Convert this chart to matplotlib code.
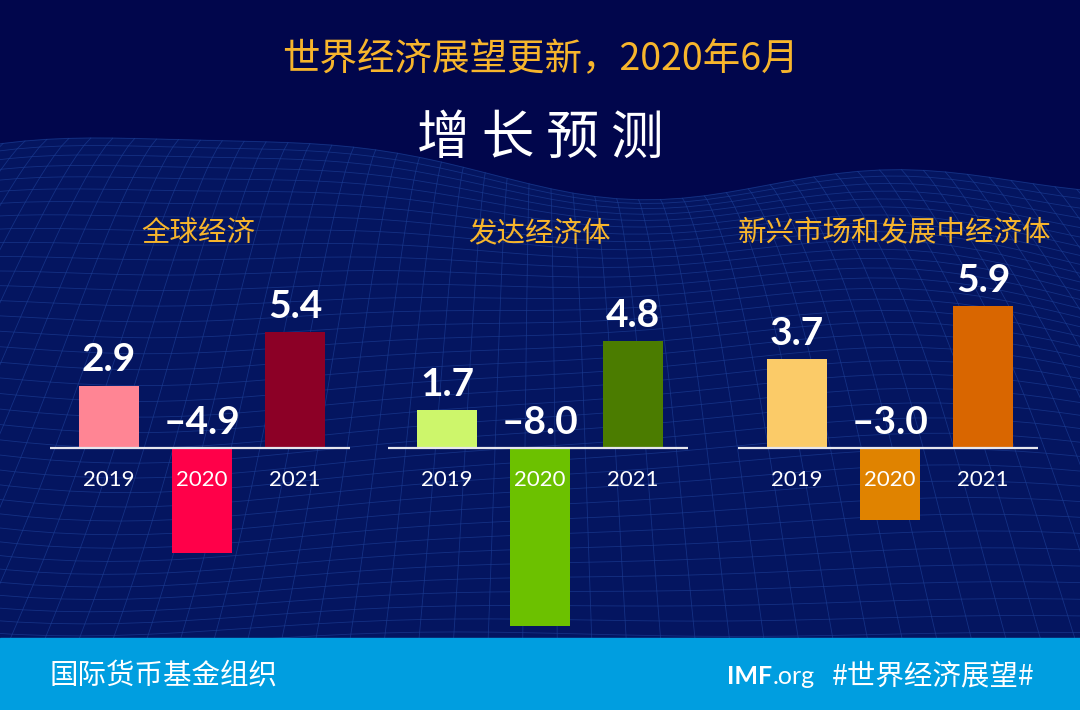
import numpy as np
import matplotlib.pyplot as plt
from matplotlib.patches import Rectangle

# data
years = ['2019', '2020', '2021']
panel_titles = ['全球经济', '发达经济体', '新兴市场和发展中经济体']
world = [2.9, -4.9, 5.4]
advanced = [1.7, -8.0, 4.8]
emerging = [3.7, -3.0, 5.9]
colors = [
    ['#ff8594', '#ff0049', '#8c0026'],
    ['#cdf66b', '#6cc100', '#4b7c00'],
    ['#fbcb68', '#e08300', '#d96600'],
]

W, H = 1080, 710
BG = '#01064c'
GOLD = '#f7b52c'
CJK = ['Noto Sans CJK SC', 'DejaVu Sans']

fig = plt.figure(figsize=(W / 100, H / 100), dpi=100)
fig.patch.set_facecolor(BG)

# background wireframe landscape (decoration only)
bg = fig.add_axes([0, 0, 1, 1])
bg.set_xlim(0, W)
bg.set_ylim(H, 0)
bg.axis('off')
nu, nv = 70, 40
u = np.linspace(-0.2, 1.2, nu)
v = np.linspace(0, 1, nv)
U, V = np.meshgrid(u, v)
ypos = 185 + 470 * V ** 1.15
bump = (np.sin(U * 9.0 + V * 3.0) * 0.5 + np.sin(U * 4.3 - V * 5.0 + 1.0) * 0.7
        + np.sin(U * 15 + 2.0) * 0.25)
amp = 22 + 10 * (1 - V)
Y = ypos - amp * bump - 15 * (1 - V)
X = W / 2 + (U - 0.5) * W * (1.0 + 0.6 * V)
top = Y[0]
bg.fill_between(X[0], top, H, color='#041560', zorder=0)
for i in range(nv):
    bg.plot(X[i], Y[i], color='#1b3c93', lw=0.6, alpha=0.7, zorder=1)
for j in range(nu):
    bg.plot(X[:, j], Y[:, j], color='#1b3c93', lw=0.6, alpha=0.7, zorder=1)
bg.add_patch(Rectangle((0, 638), W, H - 638, color='#009ee0', zorder=2))

# titles
fig.text(540 / W, 1 - 60 / H, '世界经济展望更新，2020年6月', color=GOLD, fontsize=27,
         family=CJK, ha='center', va='center')
fig.text(540 / W, 1 - 138 / H, '增 长 预 测', color='white', fontsize=38,
         family=CJK, weight='medium', ha='center', va='center')

# panels
series = [world, advanced, emerging]
line_left = [50, 388, 738]
scales = [21.5, 22.3, 24.0]
title_x = [198, 539, 895]
ax_top, ax_bot, base = 230, 640, 448
span = 300
step = 93
for k in range(3):
    s = scales[k]
    ax = fig.add_axes([line_left[k] / W, 1 - ax_bot / H, span / W, (ax_bot - ax_top) / H])
    ax.set_facecolor('none')
    ax.axis('off')
    ax.set_ylim(-(ax_bot - base) / s, (base - ax_top) / s)
    left = -59 / step
    ax.set_xlim(left, left + span / step)
    xs = np.arange(3)
    vals = series[k]
    ax.bar(xs, vals, width=60 / step, color=colors[k], zorder=2)
    ax.axhline(0, color='#e6e6ee', lw=1.6, zorder=3)
    for x, val, yr in zip(xs, vals, years):
        lab = f'{val:.1f}'.replace('-', '–')
        ax.annotate(lab, (x, max(val, 0)), xytext=(0, 6), textcoords='offset points',
                    ha='center', va='bottom', color='white', fontsize=28,
                    family='Lato', weight='bold', zorder=4)
        ax.annotate(yr, (x, 0), xytext=(0, -23), textcoords='offset points',
                    ha='center', va='center', color='white', fontsize=16,
                    family='Lato', zorder=4)
    fig.text(title_x[k] / W, 1 - 233 / H, panel_titles[k], color=GOLD, fontsize=20.5,
             family=CJK, ha='center', va='center')

# footer
fig.text(50 / W, 1 - 676 / H, '国际货币基金组织', color='white', fontsize=20.5,
         family=CJK, ha='left', va='center')
imf = fig.text(727 / W, 1 - 677 / H, 'IMF', color='white', fontsize=18,
               family='Lato', weight='bold', ha='left', va='center')
fig.canvas.draw()
bb = imf.get_window_extent()
fig.text(bb.x1 / W, 1 - 677 / H, '.org', color='white', fontsize=18,
         family='Lato', ha='left', va='center')
fig.text(1035 / W, 1 - 676 / H, '#世界经济展望#', color='white', fontsize=20.5,
         family=CJK, ha='right', va='center')

fig.savefig('out.png', dpi=100, facecolor=BG)
